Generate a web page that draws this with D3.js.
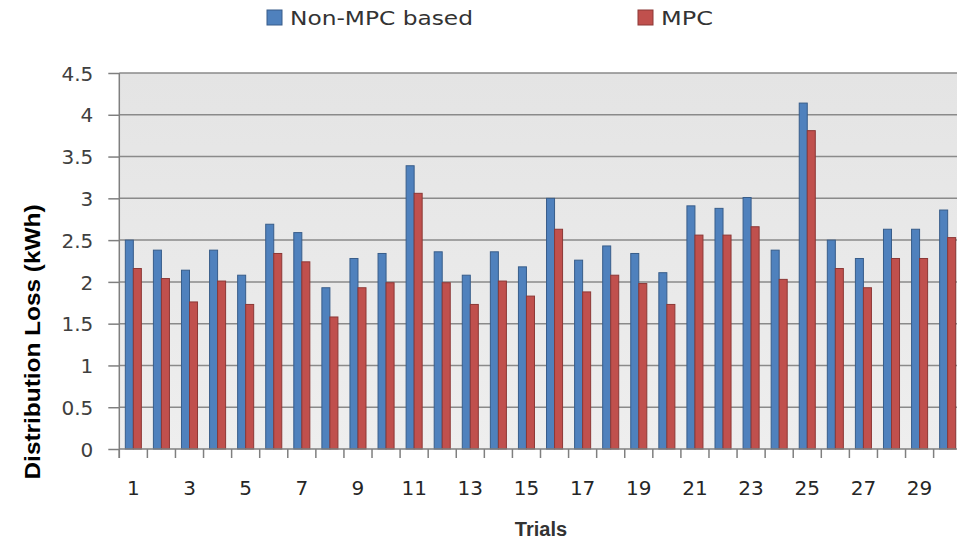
<!DOCTYPE html>
<html>
<head>
<meta charset="utf-8">
<script src="https://cdn.jsdelivr.net/npm/d3@7"></script>
<style>
  html, body { margin: 0; padding: 0; background: #fff; }
  svg { display: block; }
</style>
</head>
<body>
<svg id="chart" width="957" height="542"></svg>
<script>
const trials = d3.range(1, 31).map(String);
const seriesNames = ["Non-MPC based", "MPC"];
const nonMpc = [2.50, 2.38, 2.14, 2.38, 2.08, 2.69, 2.59, 1.93, 2.28, 2.34,
                3.39, 2.36, 2.08, 2.36, 2.18, 3.00, 2.26, 2.43, 2.34, 2.11,
                2.91, 2.88, 3.01, 2.38, 4.14, 2.50, 2.28, 2.63, 2.63, 2.86];
const mpc    = [2.16, 2.04, 1.76, 2.01, 1.73, 2.34, 2.24, 1.58, 1.93, 1.99,
                3.06, 1.99, 1.73, 2.01, 1.83, 2.63, 1.88, 2.08, 1.98, 1.73,
                2.56, 2.56, 2.66, 2.03, 3.81, 2.16, 1.93, 2.28, 2.28, 2.53];
const yTicks = [0, 0.5, 1, 1.5, 2, 2.5, 3, 3.5, 4, 4.5];
const xTickLabels = ["1","3","5","7","9","11","13","15","17","19","21","23","25","27","29"];

const fills = ["#4f81bd", "#c0504d"];
const strokes = ["#385d8a", "#8c3836"];

const svg = d3.select("#chart");
const pLeft = 119.3, pRight = 961.7, pTop = 73, pBottom = 449;

const x = d3.scaleBand().domain(trials).range([pLeft, pRight]).padding(0);
const x1 = d3.scaleBand().domain(seriesNames).range([0, x.bandwidth()])
  .paddingInner(0).paddingOuter(0.75);
const y = d3.scaleLinear().domain([0, 4.5]).range([pBottom, pTop]);

// background gradient
const defs = svg.append("defs");
const grad = defs.append("linearGradient").attr("id", "bg")
  .attr("x1", 0).attr("y1", 0).attr("x2", 0).attr("y2", 1);
grad.append("stop").attr("offset", "0%").attr("stop-color", "#e4e4e4");
grad.append("stop").attr("offset", "100%").attr("stop-color", "#eeeeee");

svg.append("rect").attr("x", pLeft).attr("y", pTop)
  .attr("width", pRight - pLeft).attr("height", pBottom - pTop)
  .attr("fill", "url(#bg)");

// gridlines
svg.append("g").selectAll("line").data(yTicks.filter(d => d > 0)).join("line")
  .attr("x1", pLeft).attr("x2", pRight)
  .attr("y1", d => y(d)).attr("y2", d => y(d))
  .attr("stroke", "#8a8a8a").attr("stroke-width", 1.5);

// bars
const data = trials.map((t, i) => ({ t, vals: [nonMpc[i], mpc[i]] }));
const groups = svg.append("g").selectAll("g").data(data).join("g")
  .attr("transform", d => `translate(${x(d.t)},0)`);
groups.selectAll("rect").data(d => d.vals.map((v, k) => ({ v, k }))).join("rect")
  .attr("x", d => x1(seriesNames[d.k]))
  .attr("width", x1.bandwidth())
  .attr("y", d => y(d.v))
  .attr("height", d => y(0) - y(d.v))
  .attr("fill", d => fills[d.k])
  .attr("stroke", d => strokes[d.k])
  .attr("stroke-width", 1);

// Y axis
const yAxis = d3.axisLeft(y).tickValues(yTicks).tickSize(11).tickPadding(15)
  .tickFormat(d => String(d));
const gy = svg.append("g").attr("transform", `translate(${pLeft},0)`).call(yAxis);
gy.select(".domain").attr("stroke", "#7f7f7f").attr("stroke-width", 1.5)
  .attr("d", `M0,${pTop}V${pBottom + 9}`);
gy.selectAll(".tick line").attr("stroke", "#7f7f7f").attr("stroke-width", 1.5);
gy.selectAll(".tick text").attr("font-family", "DejaVu Sans, Verdana, sans-serif")
  .attr("font-size", 20).attr("fill", "#404040").attr("dy", "0.36em");

// X axis
const gx = svg.append("g").attr("transform", `translate(0,${pBottom})`);
gx.append("line").attr("x1", pLeft).attr("x2", pRight).attr("y1", 0).attr("y2", 0)
  .attr("stroke", "#7f7f7f").attr("stroke-width", 1.5);
const boundaries = trials.map(t => x(t)).concat([pRight]);
gx.selectAll("line.tk").data(boundaries).join("line").attr("class", "tk")
  .attr("x1", d => d).attr("x2", d => d).attr("y1", 0).attr("y2", 9)
  .attr("stroke", "#7f7f7f").attr("stroke-width", 1.5);
gx.selectAll("text").data(xTickLabels).join("text")
  .attr("x", d => x(d) + x.bandwidth() / 2)
  .attr("y", 46)
  .attr("text-anchor", "middle")
  .attr("font-family", "DejaVu Sans, Verdana, sans-serif")
  .attr("font-size", 20).attr("fill", "#262626")
  .text(d => d);

// axis titles
svg.append("text").attr("x", 541).attr("y", 536).attr("text-anchor", "middle")
  .attr("font-family", "Liberation Sans, Arial, sans-serif").attr("font-weight", "bold")
  .attr("font-size", 20).attr("fill", "#333").text("Trials");
svg.append("text")
  .attr("transform", "translate(40,342) rotate(-90)")
  .attr("text-anchor", "middle")
  .attr("font-family", "Liberation Sans, Arial, sans-serif").attr("font-weight", "bold")
  .attr("font-size", 22).attr("fill", "#000")
  .attr("textLength", 275).attr("lengthAdjust", "spacingAndGlyphs")
  .text("Distribution Loss (kWh)");

// legend
const legendX = [267, 638];
const legendLen = [183, 52];
const leg = svg.append("g").selectAll("g").data(seriesNames).join("g")
  .attr("transform", (d, i) => `translate(${legendX[i]},10)`);
leg.append("rect").attr("width", 15).attr("height", 15)
  .attr("fill", (d, i) => fills[i]).attr("stroke", (d, i) => strokes[i]);
leg.append("text").attr("x", 23).attr("y", 15)
  .attr("font-family", "DejaVu Sans, Verdana, sans-serif").attr("font-size", 20)
  .attr("fill", "#333")
  .attr("textLength", (d, i) => legendLen[i]).attr("lengthAdjust", "spacingAndGlyphs")
  .text(d => d);
</script>
</body>
</html>
